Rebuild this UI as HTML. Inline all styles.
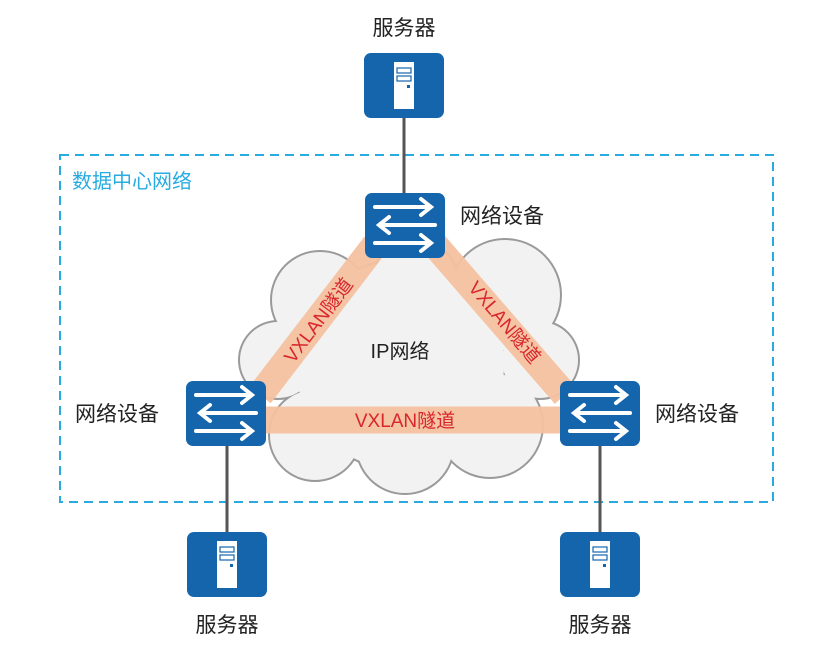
<!DOCTYPE html>
<html><head><meta charset="utf-8"><style>
body{margin:0;background:#fff;width:836px;height:662px;overflow:hidden}
text{font-family:"Liberation Sans","Noto Sans CJK SC",sans-serif}
</style></head><body>
<svg width="836" height="662" viewBox="0 0 836 662">
<defs>
<g id="srv"><rect x="0" y="0" width="80" height="65" rx="7" fill="#1565ad"/>
<rect x="30" y="9" width="20" height="47" fill="#fff"/>
<rect x="33" y="15" width="14" height="5" fill="none" stroke="#1565ad" stroke-width="1.2"/>
<rect x="33" y="23" width="14" height="5" fill="none" stroke="#1565ad" stroke-width="1.2"/>
<rect x="43" y="32" width="3" height="3" fill="#1565ad"/></g>
<g id="sw"><rect x="0" y="0" width="80" height="65" rx="7" fill="#1565ad"/>
<g stroke="#fff" stroke-width="4" fill="none" stroke-linecap="round">
<line x1="10" y1="14" x2="64" y2="14"/><polyline points="56,6 66,14 56,22"/>
<line x1="16" y1="32" x2="70" y2="32"/><polyline points="24,24 14,32 24,40"/>
<line x1="10" y1="50" x2="64" y2="50"/><polyline points="56,42 66,50 56,58"/></g></g>
</defs>
<rect x="60" y="155" width="713" height="347" fill="none" stroke="#29abe2" stroke-width="2" stroke-dasharray="9,6"/>
<text x="72" y="188" font-size="20" fill="#29abe2">数据中心网络</text>
<g stroke="#9a9a9a" stroke-width="2" fill="#9a9a9a">
<circle cx="320" cy="300" r="49"/><circle cx="415" cy="282" r="43"/><circle cx="505" cy="295" r="56"/>
<circle cx="540" cy="360" r="39"/><circle cx="490" cy="425" r="53"/><circle cx="405" cy="445" r="49"/>
<circle cx="315" cy="435" r="46"/><circle cx="278" cy="360" r="39"/><circle cx="400" cy="365" r="105"/>
</g>
<g fill="#f2f2f2">
<circle cx="320" cy="300" r="48"/><circle cx="415" cy="282" r="42"/><circle cx="505" cy="295" r="55"/>
<circle cx="540" cy="360" r="38"/><circle cx="490" cy="425" r="52"/><circle cx="405" cy="445" r="48"/>
<circle cx="315" cy="435" r="45"/><circle cx="278" cy="360" r="38"/><circle cx="400" cy="365" r="104"/>
</g>
<g stroke="#555" stroke-width="3"><line x1="404" y1="118" x2="404" y2="195"/><line x1="227" y1="446" x2="227" y2="532"/><line x1="600" y1="446" x2="600" y2="532"/></g>
<g stroke="#f4c19f" stroke-width="27" stroke-opacity="0.95">
<line x1="375" y1="245" x2="260" y2="395"/><line x1="435" y1="245" x2="565" y2="395"/><line x1="262" y1="420" x2="565" y2="420"/></g>
<text x="405" y="427" font-size="19" fill="#d9262b" text-anchor="middle">VXLAN隧道</text>
<text transform="translate(318,320) rotate(-53)" font-size="19" fill="#d9262b" text-anchor="middle" y="7">VXLAN隧道</text>
<text transform="translate(505,322) rotate(50)" font-size="19" fill="#d9262b" text-anchor="middle" y="7">VXLAN隧道</text>
<text x="400" y="358" font-size="20" fill="#222" text-anchor="middle">IP网络</text>
<use href="#srv" x="364" y="53"/><use href="#sw" x="365" y="193"/><use href="#sw" x="186" y="381"/><use href="#sw" x="560" y="381"/>
<use href="#srv" x="187" y="532"/><use href="#srv" x="560" y="532"/>
<g font-size="21" fill="#222">
<text x="404" y="35" text-anchor="middle">服务器</text>
<text x="460" y="223">网络设备</text>
<text x="75" y="421">网络设备</text>
<text x="655" y="421">网络设备</text>
<text x="227" y="632" text-anchor="middle">服务器</text>
<text x="600" y="632" text-anchor="middle">服务器</text>
</g>
</svg>
</body></html>
